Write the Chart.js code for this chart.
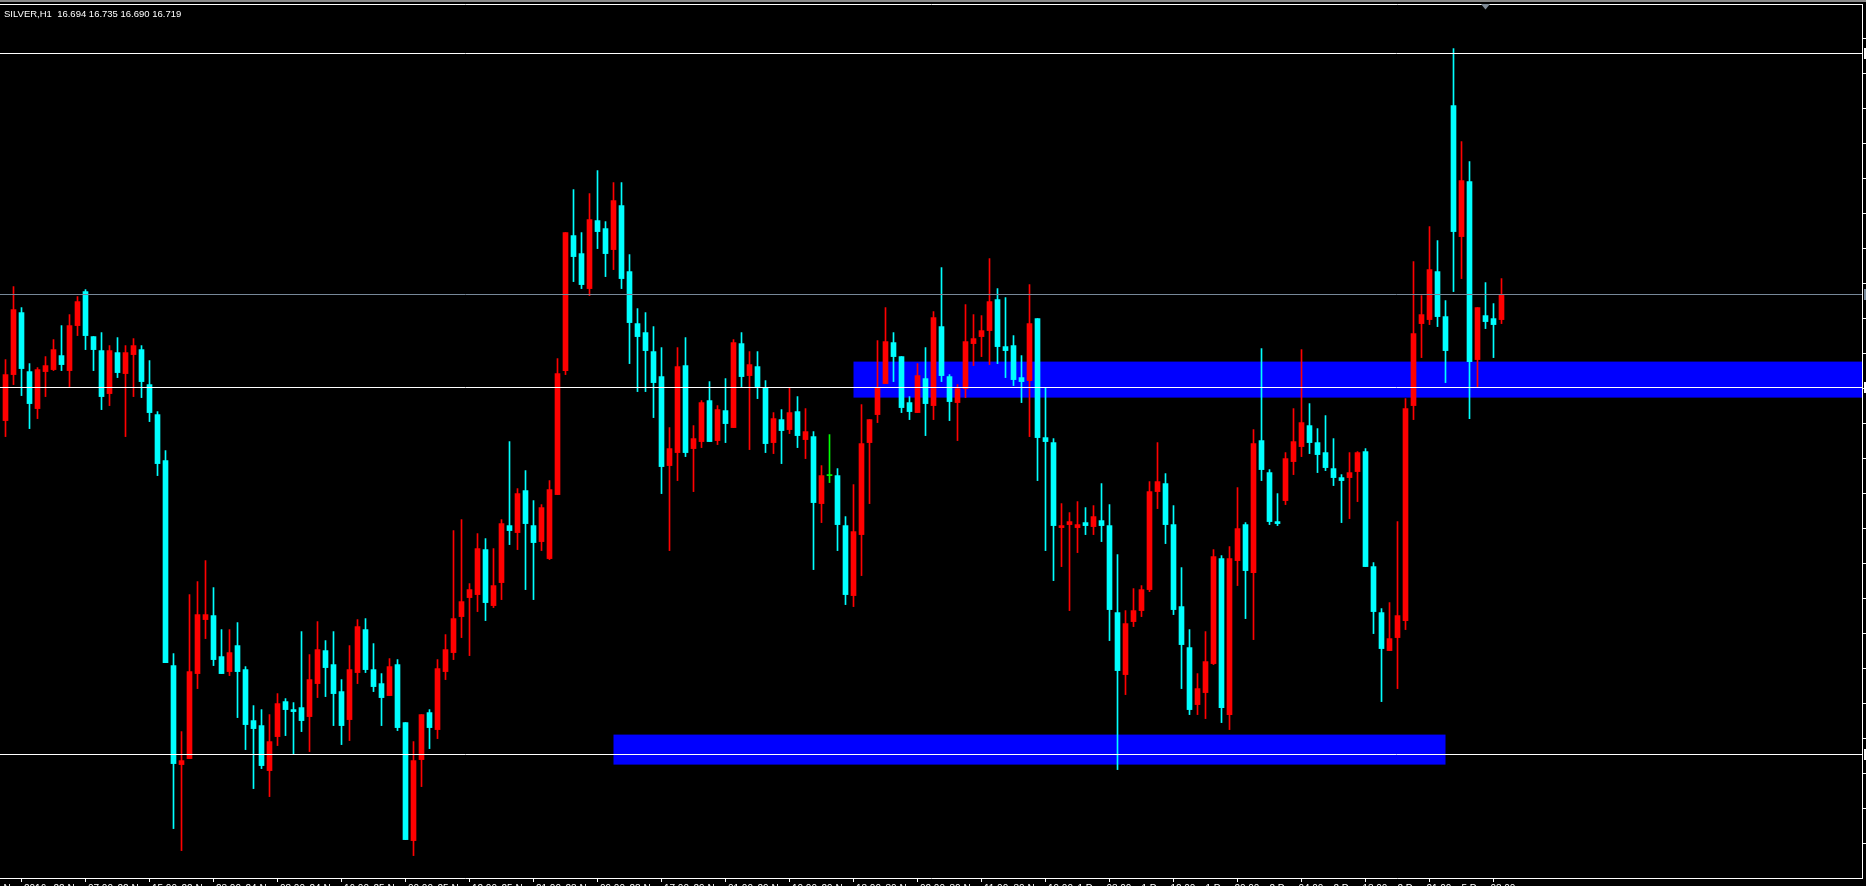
<!DOCTYPE html>
<html>
<head>
<meta charset="utf-8">
<title>SILVER,H1</title>
<script src="https://cdn.jsdelivr.net/npm/chart.js@4.4.1/dist/chart.umd.min.js"></script>
<style>
  html, body { margin: 0; padding: 0; background: #000; overflow: hidden; }
  #wrap { width: 1866px; height: 886px; overflow: hidden; }
  canvas { display: block; }
</style>
</head>
<body>
<div id="wrap"><canvas id="chart" width="1866" height="896"></canvas></div>
<script>
// SILVER H1 candles, oldest first
const opens = [
  16.593,16.639,16.701,16.642,16.605,16.642,16.644,16.658,16.643,16.688,
  16.722,16.677,16.663,16.620,16.661,16.640,16.659,16.664,16.629,16.599,
  16.553,16.348,16.249,16.255,16.340,16.394,16.398,16.357,16.342,16.368,
  16.344,16.293,16.288,16.243,16.277,16.312,16.304,16.306,16.297,16.330,
  16.363,16.349,16.322,16.294,16.341,16.384,16.344,16.330,16.318,16.349,
  16.291,16.173,16.254,16.301,16.284,16.342,16.361,16.397,16.416,16.419,
  16.464,16.408,16.431,16.488,16.481,16.523,16.488,16.472,16.455,16.519,
  16.643,16.778,16.760,16.725,16.793,16.785,16.764,16.808,16.742,16.690,
  16.681,16.662,16.637,16.548,16.561,16.648,16.565,16.572,16.613,16.573,
  16.603,16.586,16.670,16.638,16.647,16.626,16.571,16.594,16.584,16.602,
  16.574,16.577,16.510,16.538,16.538,16.488,16.418,16.479,16.571,16.599,
  16.630,16.671,16.657,16.611,16.601,16.635,16.608,16.687,16.637,16.611,
  16.625,16.670,16.677,16.683,16.714,16.667,16.668,16.636,16.633,16.695,
  16.576,16.571,16.486,16.489,16.486,16.491,16.487,16.493,16.488,16.401,
  16.339,16.392,16.403,16.424,16.522,16.530,16.489,16.407,16.366,16.309,
  16.321,16.350,16.455,16.299,16.453,16.489,16.441,16.573,16.541,16.492,
  16.513,16.552,16.567,16.588,16.571,16.561,16.545,16.536,16.536,16.542,
  16.562,16.447,16.401,16.363,16.376,16.393,16.608,16.690,16.694,16.742,
  16.697,16.908,16.777,16.832,16.654,16.698,16.695,16.694
];
const highs = [
  16.654,16.727,16.706,16.650,16.646,16.657,16.674,16.688,16.699,16.717,
  16.724,16.677,16.681,16.668,16.676,16.668,16.675,16.668,16.653,16.602,
  16.563,16.360,16.282,16.419,16.432,16.453,16.426,16.384,16.384,16.391,
  16.347,16.308,16.304,16.299,16.320,16.315,16.311,16.382,16.359,16.392,
  16.373,16.382,16.334,16.368,16.394,16.395,16.370,16.340,16.355,16.354,
  16.291,16.272,16.299,16.304,16.354,16.379,16.483,16.494,16.430,16.480,
  16.475,16.465,16.494,16.572,16.525,16.543,16.513,16.509,16.533,16.655,
  16.781,16.824,16.781,16.820,16.843,16.792,16.831,16.831,16.759,16.705,
  16.701,16.687,16.666,16.586,16.666,16.676,16.588,16.613,16.632,16.608,
  16.635,16.674,16.681,16.662,16.662,16.633,16.601,16.604,16.626,16.617,
  16.605,16.582,16.548,16.579,16.545,16.497,16.529,16.609,16.594,16.673,
  16.706,16.681,16.657,16.617,16.650,16.666,16.702,16.746,16.639,16.629,
  16.709,16.699,16.698,16.755,16.725,16.716,16.678,16.658,16.729,16.695,
  16.626,16.575,16.510,16.501,16.512,16.506,16.508,16.530,16.509,16.459,
  16.403,16.425,16.428,16.532,16.571,16.540,16.508,16.446,16.384,16.340,
  16.382,16.464,16.458,16.467,16.526,16.491,16.584,16.665,16.544,16.520,
  16.561,16.605,16.664,16.610,16.585,16.598,16.575,16.539,16.561,16.562,
  16.565,16.451,16.405,16.411,16.492,16.615,16.752,16.718,16.787,16.773,
  16.713,16.965,16.872,16.852,16.706,16.731,16.710,16.735
];
const lows = [
  16.577,16.629,16.618,16.585,16.595,16.617,16.643,16.643,16.627,16.678,
  16.664,16.643,16.604,16.608,16.636,16.577,16.617,16.616,16.592,16.538,
  16.351,16.185,16.163,16.255,16.325,16.375,16.348,16.340,16.338,16.296,
  16.264,16.225,16.245,16.217,16.268,16.278,16.259,16.282,16.262,16.316,
  16.317,16.288,16.269,16.273,16.330,16.341,16.322,16.288,16.318,16.283,
  16.174,16.158,16.227,16.265,16.275,16.334,16.354,16.376,16.358,16.402,
  16.393,16.406,16.414,16.469,16.464,16.424,16.414,16.463,16.454,16.519,
  16.639,16.732,16.725,16.718,16.765,16.737,16.744,16.725,16.650,16.622,
  16.622,16.596,16.520,16.463,16.533,16.557,16.522,16.566,16.572,16.569,
  16.571,16.586,16.627,16.564,16.615,16.561,16.560,16.550,16.580,16.566,
  16.555,16.444,16.491,16.531,16.463,16.409,16.407,16.438,16.510,16.591,
  16.630,16.632,16.601,16.594,16.601,16.578,16.594,16.632,16.593,16.573,
  16.616,16.648,16.657,16.649,16.650,16.636,16.628,16.611,16.577,16.533,
  16.463,16.433,16.447,16.403,16.461,16.479,16.479,16.472,16.373,16.244,
  16.319,16.387,16.397,16.422,16.505,16.470,16.399,16.325,16.299,16.299,
  16.295,16.349,16.291,16.284,16.428,16.395,16.374,16.533,16.489,16.488,
  16.509,16.539,16.557,16.560,16.541,16.543,16.528,16.491,16.495,16.512,
  16.447,16.380,16.312,16.363,16.325,16.384,16.594,16.656,16.689,16.687,
  16.631,16.722,16.735,16.595,16.627,16.685,16.656,16.690
];
const closes = [
  16.639,16.704,16.645,16.610,16.644,16.648,16.664,16.649,16.688,16.712,
  16.678,16.664,16.617,16.663,16.641,16.661,16.668,16.632,16.601,16.550,
  16.351,16.250,16.253,16.342,16.399,16.399,16.354,16.340,16.361,16.342,
  16.289,16.285,16.248,16.272,16.310,16.304,16.302,16.293,16.334,16.364,
  16.346,16.320,16.288,16.344,16.387,16.344,16.327,16.316,16.347,16.286,
  16.174,16.253,16.299,16.286,16.345,16.364,16.395,16.412,16.424,16.465,
  16.411,16.428,16.490,16.483,16.520,16.490,16.471,16.506,16.524,16.640,
  16.781,16.757,16.729,16.794,16.782,16.760,16.813,16.735,16.691,16.677,
  16.663,16.631,16.547,16.565,16.647,16.561,16.575,16.611,16.572,16.604,
  16.590,16.671,16.637,16.649,16.627,16.570,16.595,16.583,16.601,16.578,
  16.582,16.511,16.538,16.538,16.489,16.419,16.482,16.570,16.594,16.626,
  16.672,16.657,16.606,16.602,16.638,16.610,16.696,16.638,16.612,16.625,
  16.672,16.675,16.683,16.712,16.667,16.663,16.634,16.632,16.690,16.576,
  16.572,16.488,16.488,16.492,16.489,16.488,16.497,16.488,16.404,16.343,
  16.390,16.403,16.424,16.522,16.532,16.489,16.404,16.369,16.304,16.325,
  16.352,16.457,16.306,16.455,16.485,16.443,16.570,16.544,16.492,16.490,
  16.555,16.572,16.591,16.571,16.559,16.546,16.536,16.533,16.541,16.561,
  16.447,16.402,16.365,16.375,16.398,16.605,16.680,16.699,16.744,16.697,
  16.663,16.782,16.833,16.652,16.706,16.692,16.689,16.719
];

// time axis: bar index of each label and its text
const tickBars = [-2, 6, 14, 22, 30, 38, 46, 54, 62, 70, 78, 86, 94, 102, 110, 118, 126, 134, 142, 150, 158, 166, 174, 182];
const tickLabels = [
  '21 Nov 2016', '22 Nov 07:00', '22 Nov 15:00', '22 Nov 23:00', '24 Nov 08:00', '24 Nov 16:00',
  '25 Nov 00:00', '25 Nov 12:00', '25 Nov 21:00', '28 Nov 09:00', '28 Nov 17:00', '29 Nov 01:00',
  '29 Nov 10:00', '29 Nov 18:00', '30 Nov 02:00', '30 Nov 11:00', '30 Nov 19:00', '1 Dec 03:00',
  '1 Dec 12:00', '1 Dec 20:00', '2 Dec 04:00', '2 Dec 13:00', '2 Dec 21:00', '5 Dec 08:00'
];

// horizontal levels drawn on the chart
const levelPrices = [16.960, 16.626, 16.259];

// support / resistance zones (bar from, bar to or null = right edge, price high, price low)
const zoneFrom = [106, 76];
const zoneTo = [null, 180];
const zoneHigh = [16.652, 16.279];
const zoneLow = [16.616, 16.249];

const FONT = '"Liberation Sans", Arial, sans-serif';
const last = opens.length - 1;

const candleColors = opens.map((o, i) => closes[i] > o ? '#ff0000' : (closes[i] < o ? '#00ffff' : '#00ff00'));
const bodyData = opens.map((o, i) => ({ x: i, y: [o, closes[i]] }));
const wickData = opens.map((o, i) => ({ x: i, y: [lows[i], highs[i]] }));

// keep the plot flush with the window edges
function noPadding(scale) {
  scale.paddingLeft = 0;
  scale.paddingRight = 0;
  scale.paddingTop = 0;
  scale.paddingBottom = 0;
}

// zones behind the candles, lines and frame bits on top
const overlay = {
  id: 'overlay',
  beforeDatasetsDraw(chart) {
    const { ctx, chartArea, scales: { x, y } } = chart;
    ctx.save();
    ctx.beginPath();
    ctx.rect(chartArea.left, chartArea.top, chartArea.width, chartArea.height);
    ctx.clip();
    ctx.fillStyle = '#0000ff';
    zoneFrom.forEach((from, k) => {
      const x1 = x.getPixelForValue(from);
      const x2 = zoneTo[k] === null ? chartArea.right : x.getPixelForValue(zoneTo[k]);
      const y1 = y.getPixelForValue(zoneHigh[k]);
      const y2 = y.getPixelForValue(zoneLow[k]);
      ctx.fillRect(x1, y1, x2 - x1, y2 - y1);
    });
    ctx.restore();
  },
  afterDatasetsDraw(chart) {
    const { ctx, chartArea, scales: { y } } = chart;
    ctx.save();
    ctx.lineWidth = 1;
    const hline = (price, color) => {
      const py = Math.floor(y.getPixelForValue(price)) + 0.5;
      ctx.strokeStyle = color;
      ctx.beginPath();
      ctx.moveTo(chartArea.left, py);
      ctx.lineTo(chartArea.right, py);
      ctx.stroke();
      // little marker on the price scale
      ctx.fillStyle = color;
      ctx.fillRect(chartArea.right + 2, py - 5.5, 2, 11);
    };
    levelPrices.forEach(p => hline(p, '#ffffff'));
    hline(closes[last], '#778899');
    ctx.restore();
  },
  afterDraw(chart) {
    const { ctx, chartArea } = chart;
    ctx.save();
    // window edge and top frame line
    ctx.fillStyle = '#8a8a8a';
    ctx.fillRect(0, 0, chart.width, 2);
    ctx.strokeStyle = '#ffffff';
    ctx.lineWidth = 1;
    ctx.beginPath();
    ctx.moveTo(0, chartArea.top - 0.5);
    ctx.lineTo(chartArea.right + 1, chartArea.top - 0.5);
    ctx.stroke();
    // chart shift marker
    ctx.fillStyle = '#7d8894';
    ctx.beginPath();
    ctx.moveTo(1481, 4);
    ctx.lineTo(1490, 4);
    ctx.lineTo(1485.5, 9.5);
    ctx.closePath();
    ctx.fill();
    // symbol and last bar OHLC
    ctx.fillStyle = '#ffffff';
    ctx.font = '9.5px ' + FONT;
    ctx.textBaseline = 'alphabetic';
    const ohlc = [opens[last], highs[last], lows[last], closes[last]].map(v => v.toFixed(3)).join(' ');
    ctx.fillText('SILVER,H1  ' + ohlc, 4, 17);
    ctx.restore();
  }
};

const ctx = document.getElementById('chart').getContext('2d');
new Chart(ctx, {
  type: 'bar',
  data: {
    datasets: [
      { data: bodyData, backgroundColor: candleColors, barThickness: 5, minBarLength: 1, grouped: false, borderWidth: 0 },
      { data: wickData, backgroundColor: candleColors, barThickness: 1, minBarLength: 1, grouped: false, borderWidth: 0 }
    ]
  },
  options: {
    responsive: false,
    animation: false,
    devicePixelRatio: 1,
    events: [],
    layout: { padding: { top: 5, left: 0, right: 0, bottom: 0 }, autoPadding: false },
    plugins: { legend: { display: false }, tooltip: { enabled: false } },
    scales: {
      x: {
        type: 'linear',
        position: 'bottom',
        offset: false,
        min: -0.6875,
        max: 232.0625,
        afterBuildTicks: scale => { scale.ticks = tickBars.map(v => ({ value: v })); },
        afterFit: noPadding,
        grid: { drawOnChartArea: false, drawTicks: true, tickLength: 4, color: '#ffffff' },
        border: { display: true, color: '#ffffff', width: 1 },
        ticks: {
          autoSkip: false, maxRotation: 0, minRotation: 0, align: 'start', padding: 0,
          color: '#ffffff',
          font: { family: FONT, size: 10, lineHeight: '14px' },
          callback: value => tickLabels[tickBars.indexOf(value)]
        }
      },
      y: {
        position: 'right',
        beginAtZero: false,
        min: 16.1356,
        max: 17.0086,
        afterFit: noPadding,
        grid: { drawOnChartArea: false, drawTicks: true, tickLength: 4, color: '#ffffff' },
        border: { display: true, color: '#ffffff', width: 1 },
        ticks: { display: false, stepSize: 0.035, includeBounds: false }
      }
    }
  },
  plugins: [overlay]
});
</script>
</body>
</html>
